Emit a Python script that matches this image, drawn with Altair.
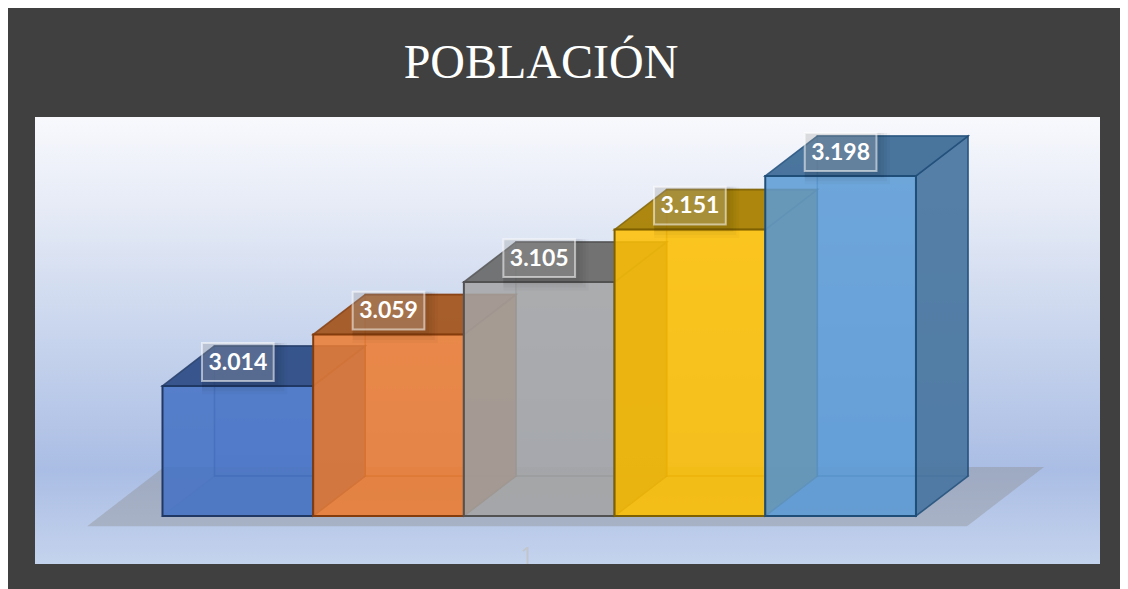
import altair as alt
import pandas as pd

values = [3014, 3059, 3105, 3151, 3198]
labels = ["3.014", "3.059", "3.105", "3.151", "3.198"]
front_colors = ["#4472C4", "#ED7D31", "#A5A5A5", "#FFC000", "#5B9BD5"]
top_colors = ["#2F4E86", "#A3561F", "#6B6B6B", "#A88000", "#3F6C96"]
side_colors = ["#2F5597", "#A3561F", "#6B6B6B", "#A88000", "#4A769F"]
edge_colors = ["#203864", "#843C0C", "#525252", "#7F6000", "#1F4E79"]
title_text = "POBLACIÓN"
category_label = "1"

BASE = 2900
DX = 0.345   # depth of a box, in category widths
DY = 35      # depth of a box, in value units

x_scale = alt.Scale(domain=[-1.0252, 6.354], nice=False, zero=False)
y_scale = alt.Scale(domain=[2836, 3345.2], nice=False, zero=False)
X = alt.X("x:Q", scale=x_scale, axis=None)
X2 = alt.X2("x2:Q")
Y = alt.Y("y:Q", scale=y_scale, axis=None)
Y2 = alt.Y2("y2:Q")


def df(**cols):
    return pd.DataFrame(cols)


panel = alt.Chart(df(a=[0])).mark_rect(
    color=alt.LinearGradient(
        gradient="linear", x1=0, x2=0, y1=0, y2=1,
        stops=[
            alt.GradientStop(color="#f8f9fd", offset=0),
            alt.GradientStop(color="#e6ebf6", offset=0.2),
            alt.GradientStop(color="#cbd7ee", offset=0.46),
            alt.GradientStop(color="#aabde4", offset=0.79),
            alt.GradientStop(color="#c4d3ed", offset=1),
        ],
    )
).encode(x=alt.value(27), x2=alt.value(1092), y=alt.value(109), y2=alt.value(556))

title = alt.Chart(df(t=[title_text])).mark_text(
    font="Liberation Serif", fontSize=48, color="#ffffff", align="center", baseline="alphabetic"
).encode(text="t:N", x=alt.value(533), y=alt.value(70))

cat = alt.Chart(df(t=[category_label], x=[2.419], y=[BASE - 42])).mark_text(
    font="Open Sans", fontSize=23, color="#c2c5cc", align="center", baseline="alphabetic"
).encode(text="t:N", x=X, y=Y)

floor = alt.Chart(df(y=[BASE - 9, BASE + 43], x=[-0.5, 0.01], x2=[5.339, 5.85])).mark_area(
    orient="horizontal", color="#8c8c8c", opacity=0.38
).encode(y=Y, x=X, x2=X2)

layers = [panel, title, floor, cat]

for i, v in enumerate(values):
    L, R = i, i + 1
    edge = dict(stroke=edge_colors[i], strokeOpacity=0.9, strokeWidth=1.6)
    inner = dict(stroke=edge_colors[i], strokeOpacity=0.55, strokeWidth=1.6)
    # bottom face
    layers.append(alt.Chart(df(y=[BASE, BASE + DY], x=[L, L + DX], x2=[R, R + DX])).mark_area(
        orient="horizontal", color=front_colors[i], opacity=0.3, **inner
    ).encode(y=Y, x=X, x2=X2))
    # back face
    layers.append(alt.Chart(df(x=[L + DX], x2=[R + DX], y=[BASE + DY], y2=[v + DY])).mark_rect(
        fill=front_colors[i], fillOpacity=0.3, **inner
    ).encode(x=X, x2=X2, y=Y, y2=Y2))
    # left face
    layers.append(alt.Chart(df(x=[L, L + DX], y=[BASE, BASE + DY], y2=[v, v + DY])).mark_area(
        color=front_colors[i], opacity=0.2
    ).encode(x=X, y=Y, y2=Y2))
    # right face
    layers.append(alt.Chart(df(x=[R, R + DX], y=[BASE, BASE + DY], y2=[v, v + DY])).mark_area(
        color=side_colors[i], opacity=0.9, **edge
    ).encode(x=X, y=Y, y2=Y2))
    # top face
    layers.append(alt.Chart(df(y=[v, v + DY], x=[L, L + DX], x2=[R, R + DX])).mark_area(
        orient="horizontal", color=top_colors[i], opacity=0.92, **edge
    ).encode(y=Y, x=X, x2=X2))
    # front face
    layers.append(alt.Chart(df(x=[L], x2=[R], y=[BASE], y2=[v])).mark_rect(
        fill=front_colors[i], fillOpacity=0.82, stroke=edge_colors[i], strokeWidth=2
    ).encode(x=X, x2=X2, y=Y, y2=Y2))

HW, HH = 0.238, 16.6
for i, (v, lab) in enumerate(zip(values, labels)):
    cx, cy = i + 0.5, v + 21
    for grow, op in [(0.09, 0.025), (0.07, 0.03), (0.05, 0.03), (0.03, 0.03), (0.01, 0.03)]:
        layers.append(alt.Chart(df(x=[cx - HW], x2=[cx + HW + grow], y=[cy - HH - grow * 130], y2=[cy + HH])).mark_rect(
            color="#000000", opacity=op
        ).encode(x=X, x2=X2, y=Y, y2=Y2))
    layers.append(alt.Chart(df(x=[cx - HW], x2=[cx + HW], y=[cy - HH], y2=[cy + HH])).mark_rect(
        fill="#ffffff", fillOpacity=0.2, stroke="#ffffff", strokeOpacity=0.55, strokeWidth=2
    ).encode(x=X, x2=X2, y=Y, y2=Y2))
    layers.append(alt.Chart(df(x=[cx], y=[cy - 6.8], t=[lab])).mark_text(
        font="Lato", fontWeight="bold", fontSize=23, color="#ffffff", align="center", baseline="alphabetic"
    ).encode(x=X, y=Y, text="t:N"))

chart = alt.layer(*layers).properties(
    width=1112, height=581, background="#404040", padding=0
).configure_view(stroke=None)

chart.save("out.html", embed_options={"renderer": "svg", "actions": False})
